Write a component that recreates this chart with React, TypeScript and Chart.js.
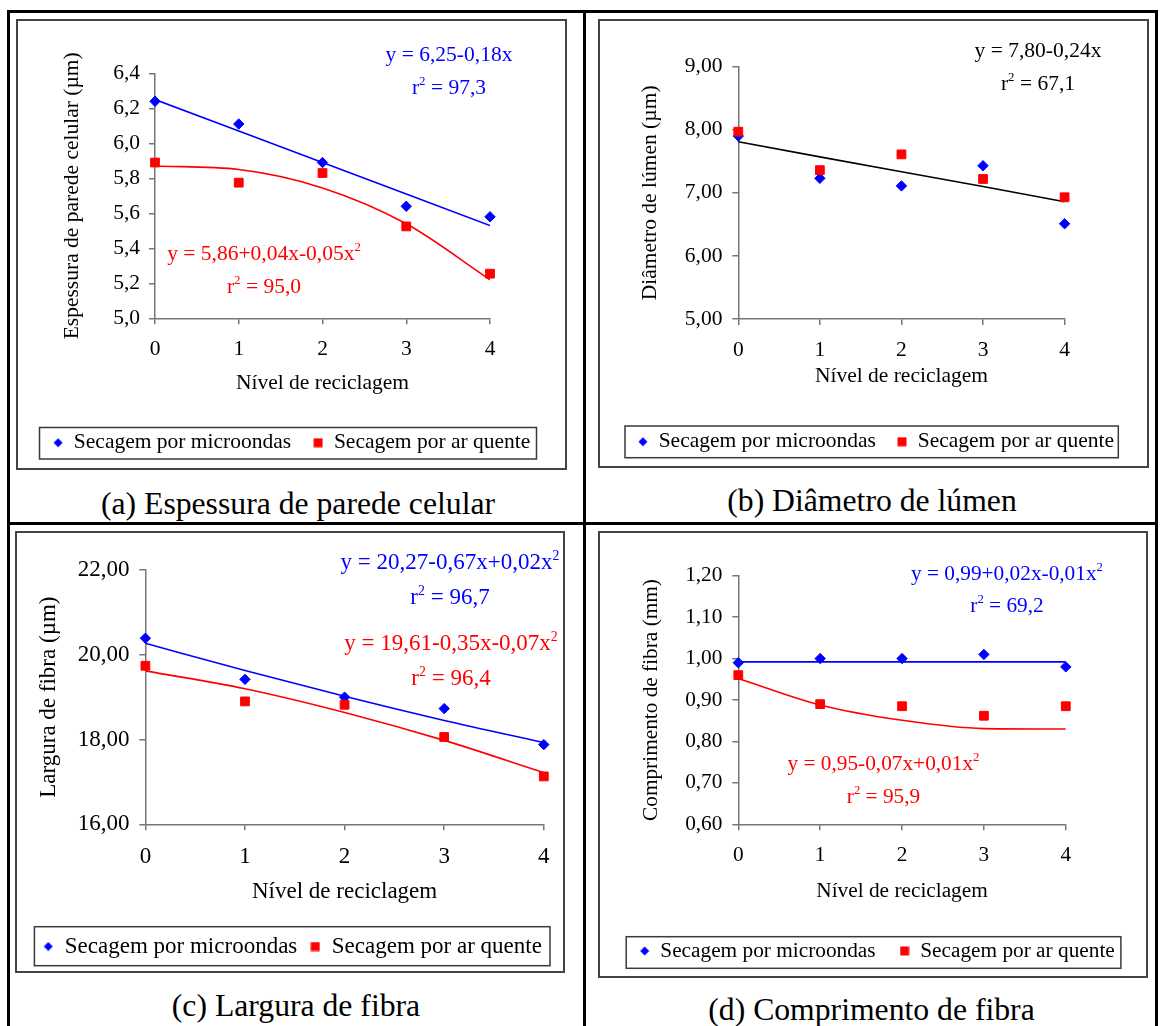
import React, { useEffect, useRef } from "react";
import { Chart, registerables } from "chart.js";
Chart.register(...registerables);

const FONT = "'Liberation Serif', 'Times New Roman', Times, serif";
const BLUE = "#0000ff";
const RED = "#ff0000";
const BLACK = "#000000";
const AXIS = "#767676";

// ---------- data ----------
const levels = [0, 1, 2, 3, 4];
const xTickLabels = ["0", "1", "2", "3", "4"];
const legendLabels = ["Secagem por microondas", "Secagem por ar quente"];
const xTitle = "Nível de reciclagem";

// (a) Espessura de parede celular
const aMicro = [6.24, 6.11, 5.89, 5.64, 5.58];
const aAr = [5.89, 5.775, 5.83, 5.525, 5.255];
const aFitMicro = [6.25, 6.07, 5.89, 5.71, 5.53];
const aFitAr = [5.87, 5.85, 5.745, 5.54, 5.22];
const aYTicks = [5.0, 5.2, 5.4, 5.6, 5.8, 6.0, 6.2, 6.4];

// (b) Diâmetro de lúmen
const bMicro = [7.9, 7.23, 7.11, 7.43, 6.51];
const bAr = [7.97, 7.36, 7.61, 7.22, 6.93];
const bFit = [7.81, 7.57, 7.335, 7.1, 6.86];
const bYTicks = [5, 6, 7, 8, 9];

// (c) Largura de fibra
const cMicro = [20.39, 19.42, 19.0, 18.73, 17.88];
const cAr = [19.74, 18.9, 18.82, 18.06, 17.13];
const cFitMicro = [20.27, 19.63, 19.02, 18.45, 17.93];
const cFitAr = [19.62, 19.2, 18.64, 17.98, 17.22];
const cYTicks = [16, 18, 20, 22];

// (d) Comprimento de fibra
const dMicro = [0.99, 1.0, 1.0, 1.01, 0.98];
const dAr = [0.96, 0.89, 0.885, 0.862, 0.885];
const dFitMicro = [0.992, 0.992, 0.992, 0.992, 0.992];
const dFitAr = [0.952, 0.888, 0.851, 0.831, 0.83];
const dYTicks = [0.6, 0.7, 0.8, 0.9, 1.0, 1.1, 1.2];

// ---------- layout / styles ----------
type Eq = { lines: string[]; cx: number; cy: number[]; color: string };
type PanelCfg = {
  box: [number, number, number, number];
  font: number;
  axisX: number;
  xRight: number;
  yTop: number;
  yBottom: number;
  yLabelRight: number;
  yTitleX: number;
  xLabelY: number;
  xTitleY: number;
  legendY: number;
  legendCenter: number;
  legendPad: number;
  legendBorder: [number, number, number, number];
  yMin: number;
  yMax: number;
  yTicks: number[];
  decimals: number;
  yTitle: string;
  micro: number[];
  ar: number[];
  fits: { data: number[]; color: string; curved: boolean }[];
  eqs: Eq[];
  caption: { text: string; cx: number; cy: number };
};

const panels: PanelCfg[] = [
  {
    box: [16, 19, 567, 470],
    font: 21.5,
    axisX: 155,
    xRight: 490,
    yTop: 73.3,
    yBottom: 318.3,
    yLabelRight: 140,
    yTitleX: 72,
    xLabelY: 349.5,
    xTitleY: 383.4,
    legendY: 442.7,
    legendCenter: 291.7,
    legendPad: 22,
    legendBorder: [39.5, 427.5, 536.5, 459],
    yMin: 5,
    yMax: 6.4,
    yTicks: aYTicks,
    decimals: 1,
    yTitle: "Espessura de parede celular (µm)",
    micro: aMicro,
    ar: aAr,
    fits: [
      { data: aFitMicro, color: BLUE, curved: false },
      { data: aFitAr, color: RED, curved: true },
    ],
    eqs: [
      { lines: ["y = 6,25-0,18x", "r² = 97,3"], cx: 449, cy: [54, 86.5], color: BLUE },
      { lines: ["y = 5,86+0,04x-0,05x²", "r² = 95,0"], cx: 264, cy: [253, 286], color: RED },
    ],
    caption: { text: "(a) Espessura de parede celular", cx: 298, cy: 504 },
  },
  {
    box: [598, 19, 1149, 468],
    font: 21.5,
    axisX: 738.3,
    xRight: 1064.6,
    yTop: 66.7,
    yBottom: 319,
    yLabelRight: 722.4,
    yTitleX: 650,
    xLabelY: 350,
    xTitleY: 376.5,
    legendY: 441.7,
    legendCenter: 876,
    legendPad: 21,
    legendBorder: [625, 426, 1118.3, 457.7],
    yMin: 5,
    yMax: 9,
    yTicks: bYTicks,
    decimals: 2,
    yTitle: "Diâmetro de lúmen (µm)",
    micro: bMicro,
    ar: bAr,
    fits: [{ data: bFit, color: BLACK, curved: false }],
    eqs: [{ lines: ["y = 7,80-0,24x", "r² = 67,1"], cx: 1038, cy: [50, 83], color: BLACK }],
    caption: { text: "(b) Diâmetro de lúmen", cx: 872, cy: 501 },
  },
  {
    box: [15, 531, 565, 973],
    font: 23,
    axisX: 145.4,
    xRight: 543.8,
    yTop: 570,
    yBottom: 824.3,
    yLabelRight: 129.5,
    yTitleX: 49,
    xLabelY: 856.5,
    xTitleY: 892,
    legendY: 946.5,
    legendCenter: 292.6,
    legendPad: 13,
    legendBorder: [34.4, 926.7, 550, 965.7],
    yMin: 16,
    yMax: 22,
    yTicks: cYTicks,
    decimals: 2,
    yTitle: "Largura de fibra (µm)",
    micro: cMicro,
    ar: cAr,
    fits: [
      { data: cFitMicro, color: BLUE, curved: true },
      { data: cFitAr, color: RED, curved: true },
    ],
    eqs: [
      { lines: ["y = 20,27-0,67x+0,02x²", "r² = 96,7"], cx: 450, cy: [562, 597], color: BLUE },
      { lines: ["y = 19,61-0,35x-0,07x²", "r² = 96,4"], cx: 451, cy: [643, 678], color: RED },
    ],
    caption: { text: "(c) Largura de fibra", cx: 296, cy: 1006 },
  },
  {
    box: [598, 531, 1148, 978],
    font: 21.3,
    axisX: 738.3,
    xRight: 1065.8,
    yTop: 575.7,
    yBottom: 824.3,
    yLabelRight: 722.4,
    yTitleX: 651.5,
    xLabelY: 855,
    xTitleY: 891,
    legendY: 951,
    legendCenter: 877.2,
    legendPad: 24,
    legendBorder: [626.2, 936.7, 1120.9, 968.3],
    yMin: 0.6,
    yMax: 1.2,
    yTicks: dYTicks,
    decimals: 2,
    yTitle: "Comprimento de fibra (mm)",
    micro: dMicro,
    ar: dAr,
    fits: [
      { data: dFitMicro, color: BLUE, curved: false },
      { data: dFitAr, color: RED, curved: true },
    ],
    eqs: [
      { lines: ["y = 0,99+0,02x-0,01x²", "r² = 69,2"], cx: 1007, cy: [573, 605], color: BLUE },
      { lines: ["y = 0,95-0,07x+0,01x²", "r² = 95,9"], cx: 883.5, cy: [763, 796], color: RED },
    ],
    caption: { text: "(d) Comprimento de fibra", cx: 871.5, cy: 1010 },
  },
];

const BW = 2; // inner box border width

function marker(style: "diamond" | "square", color: string): HTMLCanvasElement {
  const c = document.createElement("canvas");
  c.width = 10;
  c.height = 10;
  const g = c.getContext("2d")!;
  g.fillStyle = color;
  if (style === "diamond") {
    g.beginPath();
    g.moveTo(5, 0.5);
    g.lineTo(9.5, 5);
    g.lineTo(5, 9.5);
    g.lineTo(0.5, 5);
    g.closePath();
    g.fill();
  } else {
    g.fillRect(0.5, 0.5, 9, 9);
  }
  return c;
}

function PanelChart({ cfg }: { cfg: PanelCfg }) {
  const ref = useRef<HTMLCanvasElement | null>(null);
  const [bl, bt, br, bb] = cfg.box;
  const cw = br - bl - 2 * BW;
  const ch = bb - bt - 2 * BW;

  useEffect(() => {
    if (!ref.current) return;
    const ox = bl + BW;
    const oy = bt + BW;
    const fs = cfg.font;
    const lh = fs * 1.2;
    const tl = 6;
    const font = { family: FONT, size: fs };

    const chartLeft = cfg.axisX - ox;
    const chartRight = cfg.xRight - ox;
    const chartTop = cfg.yTop - oy;
    const chartBottom = cfg.yBottom - oy;

    const lc = cfg.legendCenter - ox;
    const shift = 2 * lc - cw;
    const padL = shift > 0 ? shift : 0;
    const padR = shift < 0 ? -shift : 0;
    const yAxisWidth = chartLeft - padL;
    const rightWidth = cw - padR - chartRight;

    const legPad = cfg.legendPad;
    const legTop = cfg.legendY - oy - legPad - fs / 2;
    const legHeight = fs + legPad + 10;
    const padB = Math.max(0, ch - (legTop + legHeight));
    const xAxisHeight = legTop - chartBottom;
    const xTickPad = cfg.xLabelY - oy - chartBottom - tl - lh / 2;
    const xTitlePadB = legTop - (cfg.xTitleY - oy) - lh / 2;
    const yTickPad = chartLeft - tl - (cfg.yLabelRight - ox);
    const yTitlePadT = cfg.yTitleX - ox - padL - lh / 2;

    const toXY = (arr: number[]) => levels.map((x, i) => ({ x, y: arr[i] }));

    const datasets: any[] = [];
    cfg.fits.forEach((f) => {
      datasets.push({
        type: "line",
        data: toXY(f.data),
        borderColor: f.color,
        borderWidth: 1.6,
        pointRadius: 0,
        fill: false,
        tension: f.curved ? 0.4 : 0,
        cubicInterpolationMode: f.curved ? "monotone" : "default",
        order: 3,
      });
    });
    datasets.push({
      type: "line",
      label: legendLabels[0],
      data: toXY(cfg.micro),
      showLine: false,
      clip: false,
      pointStyle: "rectRot",
      pointRadius: 5.2,
      pointBackgroundColor: BLUE,
      pointBorderColor: BLUE,
      pointBorderWidth: 1,
      order: 2,
    });
    datasets.push({
      type: "line",
      label: legendLabels[1],
      data: toXY(cfg.ar),
      showLine: false,
      clip: false,
      pointStyle: "rect",
      pointRadius: 6.2,
      pointBackgroundColor: RED,
      pointBorderColor: RED,
      pointBorderWidth: 1,
      order: 1,
    });

    const legendBorderPlugin = {
      id: "legendBorder",
      afterDraw(chart: any) {
        const ctx = chart.ctx;
        const [l, t, r, b] = cfg.legendBorder;
        ctx.save();
        ctx.strokeStyle = "#3a3a3a";
        ctx.lineWidth = 1.5;
        ctx.strokeRect(l - ox, t - oy, r - l, b - t);
        ctx.restore();
      },
    };

    const diamond = marker("diamond", BLUE);
    const square = marker("square", RED);

    const chart = new Chart(ref.current, {
      type: "line",
      data: { datasets },
      plugins: [legendBorderPlugin],
      options: {
        animation: false,
        responsive: false,
        devicePixelRatio: 1,
        events: [],
        layout: { padding: { top: chartTop, left: padL, right: padR, bottom: padB } },
        plugins: {
          tooltip: { enabled: false },
          legend: {
            position: "bottom",
            align: "center",
            labels: {
              usePointStyle: true,
              pointStyleWidth: 10,
              padding: legPad,
              font,
              color: "#000",
              generateLabels: () => [
                {
                  text: legendLabels[0],
                  fillStyle: BLUE,
                  strokeStyle: BLUE,
                  lineWidth: 0,
                  pointStyle: diamond,
                  hidden: false,
                  datasetIndex: cfg.fits.length,
                  fontColor: "#000",
                },
                {
                  text: legendLabels[1],
                  fillStyle: RED,
                  strokeStyle: RED,
                  lineWidth: 0,
                  pointStyle: square,
                  hidden: false,
                  datasetIndex: cfg.fits.length + 1,
                  fontColor: "#000",
                },
              ],
            },
          },
        },
        scales: {
          x: {
            type: "linear",
            position: "bottom",
            min: 0,
            max: 4,
            afterBuildTicks: (s: any) => {
              s.ticks = levels.map((v) => ({ value: v }));
            },
            ticks: {
              font,
              color: "#000",
              padding: xTickPad,
              maxRotation: 0,
              autoSkip: false,
              callback: (_v: any, i: number) => xTickLabels[i],
            },
            grid: {
              display: true,
              drawOnChartArea: false,
              drawTicks: true,
              tickLength: tl,
              color: AXIS,
              lineWidth: 1.5,
            },
            border: { display: true, color: AXIS, width: 1.5 },
            title: {
              display: true,
              text: xTitle,
              font,
              color: "#000",
              padding: { top: 0, bottom: xTitlePadB },
            },
            afterFit: (s: any) => {
              s.height = xAxisHeight;
            },
          },
          y: {
            type: "linear",
            position: "left",
            min: cfg.yMin,
            max: cfg.yMax,
            afterBuildTicks: (s: any) => {
              s.ticks = cfg.yTicks.map((v) => ({ value: v }));
            },
            ticks: {
              font,
              color: "#000",
              padding: yTickPad,
              autoSkip: false,
              callback: (v: any) => Number(v).toFixed(cfg.decimals).replace(".", ","),
            },
            grid: {
              display: true,
              drawOnChartArea: false,
              drawTicks: true,
              tickLength: tl,
              color: AXIS,
              lineWidth: 1.5,
            },
            border: { display: true, color: AXIS, width: 1.5 },
            title: {
              display: true,
              text: cfg.yTitle,
              font,
              color: "#000",
              padding: { top: yTitlePadT, bottom: 0 },
            },
            afterFit: (s: any) => {
              s.width = yAxisWidth;
            },
          },
          yR: {
            type: "linear",
            position: "right",
            display: true,
            grid: { display: false, drawTicks: false },
            border: { display: false },
            ticks: { display: false },
            afterFit: (s: any) => {
              s.width = rightWidth;
            },
          },
        },
      } as any,
    });
    return () => chart.destroy();
  }, [cfg]);

  return (
    <div
      style={{
        position: "absolute",
        left: bl,
        top: bt,
        width: br - bl,
        height: bb - bt,
        border: `${BW}px solid #444`,
        boxSizing: "border-box",
        background: "#fff",
      }}
    >
      <canvas
        ref={ref}
        width={cw}
        height={ch}
        style={{ position: "absolute", left: 0, top: 0, width: cw, height: ch, display: "block" }}
      />
    </div>
  );
}

function TextLine({
  text,
  cx,
  cy,
  color,
  size,
}: {
  text: string;
  cx: number;
  cy: number;
  color: string;
  size: number;
}) {
  const parts = text.split("²");
  const lhPx = 30;
  return (
    <div
      style={{
        position: "absolute",
        left: cx - 300,
        width: 600,
        top: cy - lhPx / 2,
        height: lhPx,
        lineHeight: `${lhPx}px`,
        textAlign: "center",
        color,
        fontFamily: FONT,
        fontSize: size,
        whiteSpace: "nowrap",
        pointerEvents: "none",
      }}
    >
      {parts.map((p, i) => (
        <React.Fragment key={i}>
          {p}
          {i < parts.length - 1 && (
            <span
              style={{
                fontSize: size * 0.6,
                position: "relative",
                top: -size * 0.4,
                lineHeight: 1,
              }}
            >
              2
            </span>
          )}
        </React.Fragment>
      ))}
    </div>
  );
}

function Line({ l, t, w, h }: { l: number; t: number; w: number; h: number }) {
  return <div style={{ position: "absolute", left: l, top: t, width: w, height: h, background: "#000" }} />;
}

export default function App() {
  return (
    <div
      style={{
        position: "fixed",
        left: 0,
        top: 0,
        width: 1161,
        height: 1026,
        background: "#fff",
        overflow: "hidden",
      }}
    >
      <Line l={7} t={10} w={1151} h={3} />
      <Line l={7} t={522} w={1151} h={3} />
      <Line l={7} t={10} w={3} h={1016} />
      <Line l={583} t={10} w={3} h={1016} />
      <Line l={1155} t={10} w={3} h={1016} />
      {panels.map((p, i) => (
        <PanelChart key={i} cfg={p} />
      ))}
      {panels.map((p, i) =>
        p.eqs.map((e, j) =>
          e.lines.map((ln, k) => (
            <TextLine
              key={`${i}-${j}-${k}`}
              text={ln}
              cx={e.cx}
              cy={e.cy[k]}
              color={e.color}
              size={p.font}
            />
          ))
        )
      )}
      {panels.map((p, i) => (
        <TextLine key={`cap-${i}`} text={p.caption.text} cx={p.caption.cx} cy={p.caption.cy} color="#000" size={31.7} />
      ))}
    </div>
  );
}
